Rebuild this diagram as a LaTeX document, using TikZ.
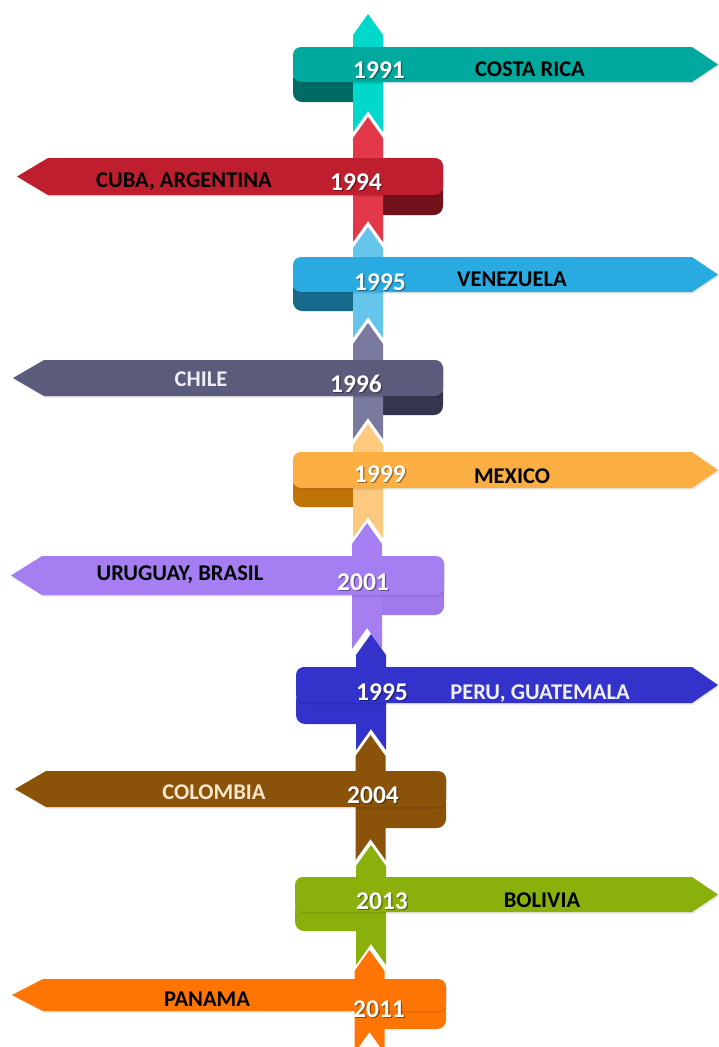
\documentclass[tikz,border=0pt]{standalone}
\usepackage{fontspec}
\setmainfont{Carlito}

% band / post / fold colours of each ribbon
\definecolor{tlband}{HTML}{00A99D}\definecolor{tlpost}{HTML}{00D8CB}\definecolor{tlcurl}{HTML}{006B64}
\definecolor{rdband}{HTML}{BE1E2D}\definecolor{rdpost}{HTML}{E2384A}\definecolor{rdcurl}{HTML}{73121B}
\definecolor{lbband}{HTML}{29ABE2}\definecolor{lbpost}{HTML}{66C5EA}\definecolor{lbcurl}{HTML}{176A8B}
\definecolor{slband}{HTML}{5B5B7B}\definecolor{slpost}{HTML}{7A7A9E}\definecolor{slcurl}{HTML}{35354D}
\definecolor{orband}{HTML}{FBAE42}\definecolor{orpost}{HTML}{FDC97F}\definecolor{orcurl}{HTML}{C07306}
\definecolor{puband}{HTML}{A57FF2}\definecolor{pupost}{HTML}{A57FF2}\definecolor{pucurl}{HTML}{A07AEC}
\definecolor{blband}{HTML}{3333CC}\definecolor{blpost}{HTML}{3333CC}\definecolor{blcurl}{HTML}{3333CC}
\definecolor{brband}{HTML}{8B520A}\definecolor{brpost}{HTML}{8B520A}\definecolor{brcurl}{HTML}{8B520A}
\definecolor{grband}{HTML}{8AB10B}\definecolor{grpost}{HTML}{8AB10B}\definecolor{grcurl}{HTML}{8AB10B}
\definecolor{ogband}{HTML}{FF7504}\definecolor{ogpost}{HTML}{FF7504}\definecolor{ogcurl}{HTML}{FF7504}
\definecolor{chiletext}{HTML}{EDEDF3}
\definecolor{perutext}{HTML}{F0F0FA}
\definecolor{colotext}{HTML}{F6E7CC}

% #1 colour prefix, #2 post centre x, #3 tip apex y, #4 apex y of the next post,
% #5 band top, #6 band bottom, #7 fold bottom, #8 rounded end x, #9 arrow tip x
\newcommand{\ribbonR}[9]{%
  \fill[#1curl, rounded corners=9pt] (#8,#6-12) rectangle (#2,#7);
  \fill[#1post] (#2-15,#3+21) -- (#2,#3) -- (#2+15,#3+21) -- (#2+15,#4+15)
        -- (#2,#4-6) -- (#2-15,#4+15) -- cycle;
  \fill[black, opacity=.1, xshift=1pt, yshift=-1.5pt] (#2,#5) -- (#9-26,#5) -- (#9,{(#5+#6)/2})
        -- (#9-26,#6) -- (#2,#6) [rounded corners=8pt] -- (#8,#6) -- (#8,#5) -- cycle;
  \fill[#1band] (#2,#5) -- (#9-26,#5) -- (#9,{(#5+#6)/2})
        -- (#9-26,#6) -- (#2,#6) [rounded corners=8pt] -- (#8,#6) -- (#8,#5) -- cycle;
}
\newcommand{\ribbonL}[9]{%
  \fill[#1curl, rounded corners=9pt] (#2,#6-12) rectangle (#8,#7);
  \fill[#1post] (#2-15,#3+21) -- (#2,#3) -- (#2+15,#3+21) -- (#2+15,#4+15)
        -- (#2,#4-6) -- (#2-15,#4+15) -- cycle;
  \fill[black, opacity=.1, xshift=1pt, yshift=-1.5pt] (#2,#5) -- (#9+31,#5) -- (#9,{(#5+#6)/2})
        -- (#9+31,#6) -- (#2,#6) [rounded corners=8pt] -- (#8,#6) -- (#8,#5) -- cycle;
  \fill[#1band] (#2,#5) -- (#9+31,#5) -- (#9,{(#5+#6)/2})
        -- (#9+31,#6) -- (#2,#6) [rounded corners=8pt] -- (#8,#6) -- (#8,#5) -- cycle;
}
% white year with a soft dark shadow
\newcommand{\yearmark}[4]{%
  \node[yrshade] (#1s) at (#2+1.3,#3+1.7) {#4};
  \node[yr] (#1) at (#2,#3) {#4};
}

\begin{document}
\begin{tikzpicture}[x=1pt, y=-1pt,
  lbl/.style={font=\fontsize{22.5}{27}\selectfont\bfseries, inner sep=0pt,
              text height=14.5pt, text depth=0pt, text=black},
  yr/.style={font=\fontsize{25.5}{30}\selectfont\bfseries, inner sep=0pt,
             text height=16.3pt, text depth=0pt, text=white},
  yrshade/.style={yr, text=black, opacity=.4}]

\fill[white] (0,0) rectangle (718,1047);
\useasboundingbox (0,0) rectangle (718,1047);

\ribbonR{tl}{368}{14}{117}{47}{82}{102}{293}{718}
\node[lbl] (costarica) at (530,69) {COSTA RICA};
\yearmark{y1991}{379}{70}{1991}

\ribbonL{rd}{368}{117}{227}{158}{195}{215}{443}{17}
\node[lbl] (cuba) at (184,180) {CUBA, ARGENTINA};
\yearmark{y1994}{356}{182}{1994}

\ribbonR{lb}{368}{227}{323}{257}{292}{311}{293}{718}
\node[lbl] (venezuela) at (512,279) {VENEZUELA};
\yearmark{y1995a}{380}{282}{1995}

\ribbonL{sl}{368}{323}{424}{360}{396}{415}{443}{13}
\node[lbl, text=chiletext] (chile) at (201,379) {CHILE};
\yearmark{y1996}{356}{384}{1996}

\ribbonR{or}{368}{424}{523}{452}{488}{507}{293}{718}
\node[lbl] (mexico) at (512,476) {MEXICO};
\yearmark{y1999}{380}{474}{1999}

\ribbonL{pu}{367}{523}{634}{556}{595}{615}{444}{11}
\node[lbl] (uruguay) at (180,573) {URUGUAY, BRASIL};
\yearmark{y2001}{363}{582}{2001}

\ribbonR{bl}{371}{634}{735}{667}{703}{724}{296}{718}
\node[lbl, text=perutext] (peru) at (540,692) {PERU, GUATEMALA};
\yearmark{y1995b}{382}{692}{1995}

\ribbonL{br}{370.5}{735}{845}{771}{807}{828}{446}{15}
\node[lbl, text=colotext] (colombia) at (214,792) {COLOMBIA};
\yearmark{y2004}{373}{795}{2004}

\ribbonR{gr}{371}{845}{950}{877}{912}{931}{295}{718}
\node[lbl] (bolivia) at (542,900) {BOLIVIA};
\yearmark{y2013}{382}{901}{2013}

\ribbonL{og}{369.5}{950}{1038}{979}{1011}{1029}{446}{12}
\node[lbl] (panama) at (207,999) {PANAMA};
\yearmark{y2011}{379}{1009}{2011}

\end{tikzpicture}
\end{document}
